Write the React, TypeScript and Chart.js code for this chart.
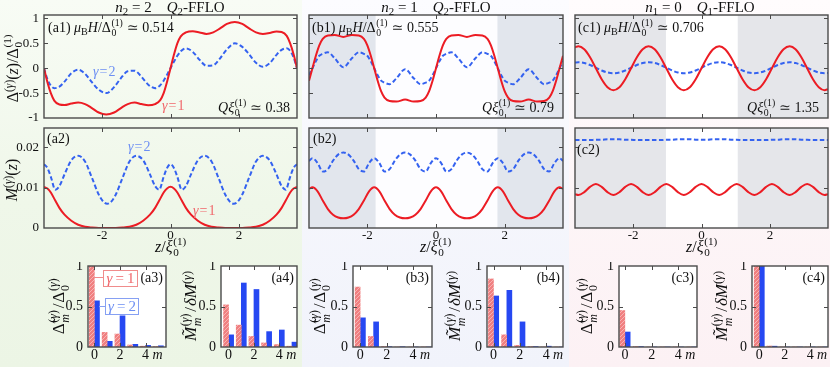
import React, { useEffect, useRef } from "react";
import { Chart, registerables } from "chart.js";
Chart.register(...registerables);

const SERIF = "'Liberation Serif', 'DejaVu Serif', 'Times New Roman', serif";
const RED = "#ec1c24";
const BLUE = "#3462f0";
const BAR_BLUE = "#2648f2";
const FRAME = "#4a4a4a";
const RED_TXT = "#f0676b";
const BLUE_TXT = "#6d8ff3";

// ---------- data: (a) column, n2 = 2 ----------
const a1Z = [-3.7,-3.6,-3.5,-3.4,-3.25,-3.1,-2.9,-2.7,-2.5,-2.3,-2.1,-1.88,-1.65,-1.45,-1.25,-1.05,-0.85,-0.65,-0.45,-0.3,-0.2,-0.1,0,0.1,0.2,0.3,0.45,0.65,0.85,1.05,1.25,1.45,1.65,1.88,2.1,2.3,2.5,2.7,2.9,3.1,3.25,3.4,3.5,3.6,3.7];
const a1Red = [0,-0.28,-0.5,-0.65,-0.73,-0.74,-0.71,-0.69,-0.72,-0.8,-0.89,-0.93,-0.89,-0.8,-0.72,-0.69,-0.72,-0.745,-0.72,-0.64,-0.5,-0.27,0,0.27,0.5,0.64,0.72,0.745,0.72,0.69,0.72,0.8,0.89,0.93,0.89,0.8,0.72,0.69,0.71,0.74,0.73,0.65,0.5,0.28,0];
const a1Blue = [0,-0.22,-0.35,-0.4,-0.37,-0.27,-0.1,-0.03,-0.11,-0.28,-0.43,-0.5,-0.38,-0.2,-0.06,-0.05,-0.17,-0.33,-0.4,-0.34,-0.25,-0.13,0,0.13,0.25,0.34,0.4,0.33,0.17,0.05,0.06,0.2,0.38,0.5,0.43,0.28,0.11,0.03,0.1,0.27,0.37,0.4,0.35,0.22,0];

const a2Z = [-3.7,-3.6,-3.5,-3.37,-3.25,-3.1,-2.9,-2.7,-2.5,-2.3,-2.1,-1.95,-1.85,-1.75,-1.6,-1.4,-1.2,-1.0,-0.8,-0.6,-0.45,-0.33,-0.2,-0.1,0,0.1,0.2,0.33,0.45,0.6,0.8,1.0,1.2,1.4,1.6,1.75,1.85,1.95,2.1,2.3,2.5,2.7,2.9,3.1,3.25,3.37,3.5,3.6,3.7];
const a2Red = [0.0102,0.0098,0.0088,0.0068,0.005,0.0033,0.0018,0.0008,0.0003,0.0001,0,0,0,0,0,0.0001,0.0003,0.0008,0.0018,0.0033,0.005,0.0068,0.0088,0.0098,0.0102,0.0098,0.0088,0.0068,0.005,0.0033,0.0018,0.0008,0.0003,0.0001,0,0,0,0,0,0.0001,0.0003,0.0008,0.0018,0.0033,0.005,0.0068,0.0088,0.0098,0.0102];
const a2Blue = [0.0158,0.0149,0.0127,0.0095,0.0104,0.0133,0.0168,0.0179,0.0165,0.0125,0.0083,0.0064,0.006,0.0064,0.0083,0.0125,0.0165,0.0179,0.0168,0.0133,0.0104,0.0095,0.0127,0.0149,0.0158,0.0149,0.0127,0.0095,0.0104,0.0133,0.0168,0.0179,0.0165,0.0125,0.0083,0.0064,0.006,0.0064,0.0083,0.0125,0.0165,0.0179,0.0168,0.0133,0.0104,0.0095,0.0127,0.0149,0.0158];

// ---------- data: (b) column, n2 = 1 ----------
const b1Z = [-3.7,-3.6,-3.5,-3.4,-3.3,-3.15,-2.95,-2.7,-2.45,-2.25,-2.1,-2.0,-1.9,-1.8,-1.7,-1.6,-1.5,-1.35,-1.15,-0.9,-0.65,-0.45,-0.3,-0.2,-0.1,0,0.1,0.2,0.3,0.45,0.65,0.9,1.15,1.35,1.5,1.6,1.7,1.8,1.9,2.0,2.1,2.25,2.45,2.7,2.95,3.15,3.3,3.4,3.5,3.6,3.7];
const b1Red = [-0.25,0,0.25,0.46,0.59,0.66,0.67,0.63,0.67,0.66,0.59,0.46,0.25,0,-0.25,-0.46,-0.59,-0.66,-0.67,-0.63,-0.67,-0.66,-0.59,-0.46,-0.25,0,0.25,0.46,0.59,0.66,0.67,0.63,0.67,0.66,0.59,0.46,0.25,0,-0.25,-0.46,-0.59,-0.66,-0.67,-0.63,-0.67,-0.66,-0.59,-0.46,-0.25,0,0.25];
const b1Blue = [-0.14,0,0.14,0.25,0.29,0.32,0.2,0.02,0.2,0.32,0.29,0.25,0.14,0,-0.14,-0.25,-0.29,-0.32,-0.2,-0.02,-0.2,-0.32,-0.29,-0.25,-0.14,0,0.14,0.25,0.29,0.32,0.2,0.02,0.2,0.32,0.29,0.25,0.14,0,-0.14,-0.25,-0.29,-0.32,-0.2,-0.02,-0.2,-0.32,-0.29,-0.25,-0.14,0,0.14];

const b2Z = [-3.7,-3.6,-3.45,-3.3,-3.15,-3.0,-2.85,-2.7,-2.55,-2.4,-2.25,-2.1,-1.95,-1.8,-1.65,-1.5,-1.35,-1.2,-1.05,-0.9,-0.75,-0.6,-0.45,-0.3,-0.15,0,0.15,0.3,0.45,0.6,0.75,0.9,1.05,1.2,1.35,1.5,1.65,1.8,1.95,2.1,2.25,2.4,2.55,2.7,2.85,3.0,3.15,3.3,3.45,3.6,3.7];
const b2Red = [0.0097,0.0101,0.0091,0.0068,0.0047,0.0033,0.0026,0.0024,0.0026,0.0033,0.0047,0.0068,0.0091,0.0101,0.0091,0.0068,0.0047,0.0033,0.0026,0.0024,0.0026,0.0033,0.0047,0.0068,0.0091,0.0101,0.0091,0.0068,0.0047,0.0033,0.0026,0.0024,0.0026,0.0033,0.0047,0.0068,0.0091,0.0101,0.0091,0.0068,0.0047,0.0033,0.0026,0.0024,0.0026,0.0033,0.0047,0.0068,0.0091,0.0101,0.0097];
const b2Blue = [0.0166,0.0173,0.0161,0.014,0.0146,0.0167,0.0182,0.0187,0.0182,0.0167,0.0146,0.014,0.0161,0.0173,0.0161,0.014,0.0146,0.0167,0.0182,0.0187,0.0182,0.0167,0.0146,0.014,0.0161,0.0173,0.0161,0.014,0.0146,0.0167,0.0182,0.0187,0.0182,0.0167,0.0146,0.014,0.0161,0.0173,0.0161,0.014,0.0146,0.0167,0.0182,0.0187,0.0182,0.0167,0.0146,0.014,0.0161,0.0173,0.0166];

// ---------- data: (c) column, n1 = 0 ----------
const cZ = [-3.7,-3.6,-3.43,-3.26,-3.09,-2.92,-2.75,-2.58,-2.4,-2.23,-2.06,-1.89,-1.72,-1.55,-1.37,-1.2,-1.03,-0.86,-0.69,-0.52,-0.34,-0.17,0,0.17,0.34,0.52,0.69,0.86,1.03,1.2,1.37,1.55,1.72,1.89,2.06,2.23,2.4,2.58,2.75,2.92,3.09,3.26,3.43,3.6,3.7];
const c1Red = [0.42,0.44,0.38,0.22,0,-0.22,-0.38,-0.44,-0.38,-0.22,0,0.22,0.38,0.44,0.38,0.22,0,-0.22,-0.38,-0.44,-0.38,-0.22,0,0.22,0.38,0.44,0.38,0.22,0,-0.22,-0.38,-0.44,-0.38,-0.22,0,0.22,0.38,0.44,0.38,0.22,0,-0.22,-0.38,-0.44,-0.42];
const c1Blue = [0.115,0.12,0.105,0.065,0.01,-0.045,-0.085,-0.1,-0.085,-0.045,0.01,0.065,0.105,0.12,0.105,0.065,0.01,-0.045,-0.085,-0.1,-0.085,-0.045,0.01,0.065,0.105,0.12,0.105,0.065,0.01,-0.045,-0.085,-0.1,-0.085,-0.045,0.01,0.065,0.105,0.12,0.105,0.065,0.01,-0.045,-0.085,-0.1,-0.095];
const c2Red = [0.0084,0.0082,0.0089,0.0102,0.0109,0.0102,0.0089,0.0082,0.0089,0.0102,0.0109,0.0102,0.0089,0.0082,0.0089,0.0102,0.0109,0.0102,0.0089,0.0082,0.0089,0.0102,0.0109,0.0102,0.0089,0.0082,0.0089,0.0102,0.0109,0.0102,0.0089,0.0082,0.0089,0.0102,0.0109,0.0102,0.0089,0.0082,0.0089,0.0102,0.0109,0.0102,0.0089,0.0082,0.0084];
const c2Blue = [0.0218,0.0218,0.0218,0.0218,0.0219,0.0219,0.022,0.022,0.022,0.0219,0.0219,0.0218,0.0218,0.0218,0.0218,0.0218,0.0219,0.0219,0.022,0.022,0.022,0.0219,0.0219,0.0219,0.022,0.022,0.022,0.0219,0.0219,0.0218,0.0218,0.0218,0.0218,0.0218,0.0219,0.0219,0.022,0.022,0.022,0.0219,0.0219,0.0218,0.0218,0.0218,0.0218];

// ---------- Fourier components (bars) ----------
const mIdx = [0, 1, 2, 3, 4, 5];
const a3Red = [1.0, 0.18, 0.16, 0.025, 0.01, 0.005];
const a3Blue = [0.57, 0.07, 0.385, 0.033, 0.02, 0.015];
const a4Red = [0.52, 0.27, 0.13, 0.05, 0.03, 0.01];
const a4Blue = [0.15, 0.79, 0.71, 0.19, 0.21, 0.06];
const b3Red = [0.74, 0.13, 0.005, 0, 0, 0];
const b3Blue = [0.36, 0.31, 0.004, 0.003, 0, 0];
const b4Red = [0.84, 0.15, 0.02, 0.005, 0, 0];
const b4Blue = [0.63, 0.7, 0.31, 0.005, 0.01, 0];
const c3Red = [0.45, 0.005, 0, 0, 0, 0];
const c3Blue = [0.185, 0.005, 0, 0, 0, 0];
const c4Red = [1.0, 0.012, 0, 0, 0, 0];
const c4Blue = [1.0, 0.01, 0, 0, 0, 0];

// ticks
const zTicks = [-2, 0, 2];
const zTickLabels = ["-2", "0", "2"];
const deltaTicks = [-0.5, 0, 0.5, 1];
const deltaTickLabels = ["1", "0.5", "0", "-0.5", "-1"];
const deltaTickValues = [1, 0.5, 0, -0.5, -1];
const mTicks = [0.01, 0.02];
const mTickLabels = ["0.02", "0.01", "0"];
const mTickValues = [0.02, 0.01, 0];
const barXTicks = [0, 2, 4];
const barXLabels = ["0", "2", "4"];
const barYTicks = [0.5];
const barYValues = [1, 0.5, 0];
const barYLabels = ["1", "0.5", "0"];

type Cfg = {
  id: string;
  kind: "line" | "bar";
  frame: number[];
  xr: number[];
  yr: number[];
  xTicks: number[];
  yTicks: number[];
  xLab?: { v: number[]; t: string[]; m?: boolean };
  yLab?: { v: number[]; t: string[] };
  plotBg?: string;
  bands?: number[][];
  bandColor?: string;
  xs: number[];
  red: number[];
  blue: number[];
};

const PAD = { l: 44, r: 4, t: 4, b: 22 };
const XR = [-3.7, 3.7];
const TOPY = [-1.0, 1.07];
const MIDY = [0, 0.0248];
const BARY = [0, 1];
const B_BANDS = [[-3.7, -1.76], [1.79, 3.7]];
const C_BANDS = [[-3.7, -1.04], [1.06, 3.7]];

const panels: Cfg[] = [
  { id: "a1", kind: "line", frame: [44, 15, 297, 118], xr: XR, yr: TOPY, xTicks: zTicks, yTicks: deltaTicks, yLab: { v: deltaTickValues, t: deltaTickLabels }, xs: a1Z, red: a1Red, blue: a1Blue },
  { id: "a2", kind: "line", frame: [44, 128, 297, 228], xr: XR, yr: MIDY, xTicks: zTicks, yTicks: mTicks, yLab: { v: mTickValues, t: mTickLabels }, xLab: { v: zTicks, t: zTickLabels }, xs: a2Z, red: a2Red, blue: a2Blue },
  { id: "b1", kind: "line", frame: [309, 15, 563, 118], xr: XR, yr: TOPY, xTicks: zTicks, yTicks: deltaTicks, plotBg: "#fdfdff", bands: B_BANDS, bandColor: "#e2e6ed", xs: b1Z, red: b1Red, blue: b1Blue },
  { id: "b2", kind: "line", frame: [309, 128, 563, 228], xr: XR, yr: MIDY, xTicks: zTicks, yTicks: mTicks, xLab: { v: zTicks, t: zTickLabels }, plotBg: "#fdfdff", bands: B_BANDS, bandColor: "#e2e6ed", xs: b2Z, red: b2Red, blue: b2Blue },
  { id: "c1", kind: "line", frame: [575, 15, 828, 118], xr: XR, yr: TOPY, xTicks: zTicks, yTicks: deltaTicks, plotBg: "#ffffff", bands: C_BANDS, bandColor: "#e5e6ea", xs: cZ, red: c1Red, blue: c1Blue },
  { id: "c2", kind: "line", frame: [575, 128, 828, 228], xr: XR, yr: MIDY, xTicks: zTicks, yTicks: mTicks, xLab: { v: zTicks, t: zTickLabels }, plotBg: "#ffffff", bands: C_BANDS, bandColor: "#e5e6ea", xs: cZ, red: c2Red, blue: c2Blue },
  { id: "a3", kind: "bar", frame: [88, 266, 166, 347], xr: [-0.5, 5.6], yr: BARY, xTicks: barXTicks, yTicks: barYTicks, xLab: { v: barXTicks, t: barXLabels, m: true }, yLab: { v: barYValues, t: barYLabels }, plotBg: "#ffffff", xs: mIdx, red: a3Red, blue: a3Blue },
  { id: "a4", kind: "bar", frame: [221, 266, 297, 347], xr: [-0.6, 5.4], yr: BARY, xTicks: barXTicks, yTicks: barYTicks, xLab: { v: barXTicks, t: barXLabels, m: true }, yLab: { v: barYValues, t: barYLabels }, plotBg: "#ffffff", xs: mIdx, red: a4Red, blue: a4Blue },
  { id: "b3", kind: "bar", frame: [353, 266, 432, 347], xr: [-0.55, 5.43], yr: BARY, xTicks: barXTicks, yTicks: barYTicks, xLab: { v: barXTicks, t: barXLabels, m: true }, yLab: { v: barYValues, t: barYLabels }, plotBg: "#ffffff", xs: mIdx, red: b3Red, blue: b3Blue },
  { id: "b4", kind: "bar", frame: [487, 266, 563, 347], xr: [-0.5, 5.28], yr: BARY, xTicks: barXTicks, yTicks: barYTicks, xLab: { v: barXTicks, t: barXLabels, m: true }, yLab: { v: barYValues, t: barYLabels }, plotBg: "#ffffff", xs: mIdx, red: b4Red, blue: b4Blue },
  { id: "c3", kind: "bar", frame: [619, 266, 697, 347], xr: [-0.45, 5.4], yr: BARY, xTicks: barXTicks, yTicks: barYTicks, xLab: { v: barXTicks, t: barXLabels, m: true }, yLab: { v: barYValues, t: barYLabels }, plotBg: "#ffffff", xs: mIdx, red: c3Red, blue: c3Blue },
  { id: "c4", kind: "bar", frame: [752, 266, 828, 347], xr: [-0.57, 5.4], yr: BARY, xTicks: barXTicks, yTicks: barYTicks, xLab: { v: barXTicks, t: barXLabels, m: true }, yLab: { v: barYValues, t: barYLabels }, plotBg: "#ffffff", xs: mIdx, red: c4Red, blue: c4Blue },
];

function makeHatch(): CanvasPattern | string {
  const c = document.createElement("canvas");
  c.width = 4;
  c.height = 4;
  const g = c.getContext("2d");
  if (!g) return "#f28a8a";
  g.fillStyle = "#f07f80";
  g.fillRect(0, 0, 4, 4);
  g.strokeStyle = "#f7b3b3";
  g.lineWidth = 1;
  g.beginPath();
  g.moveTo(0, 4);
  g.lineTo(4, 0);
  g.stroke();
  return g.createPattern(c, "repeat") || "#f28a8a";
}

function makeDeco(cfg: Cfg) {
  const fs = cfg.kind === "bar" ? 14 : 13;
  return {
    id: "deco",
    beforeDatasetsDraw(chart: any) {
      const { ctx, chartArea: a } = chart;
      const xs = chart.scales.x;
      ctx.save();
      if (cfg.plotBg) {
        ctx.fillStyle = cfg.plotBg;
        ctx.fillRect(a.left, a.top, a.right - a.left, a.bottom - a.top);
      }
      (cfg.bands || []).forEach((bd) => {
        const p0 = Math.max(a.left, xs.getPixelForValue(bd[0]));
        const p1 = Math.min(a.right, xs.getPixelForValue(bd[1]));
        ctx.fillStyle = cfg.bandColor || "#e4e4e4";
        ctx.fillRect(p0, a.top, p1 - p0, a.bottom - a.top);
      });
      ctx.restore();
    },
    afterDraw(chart: any) {
      const { ctx, chartArea: a } = chart;
      const xs = chart.scales.x;
      const ys = chart.scales.y;
      ctx.save();
      ctx.strokeStyle = FRAME;
      ctx.lineWidth = 1;
      ctx.beginPath();
      cfg.xTicks.forEach((v) => {
        const p = Math.round(xs.getPixelForValue(v)) + 0.5;
        ctx.moveTo(p, a.bottom);
        ctx.lineTo(p, a.bottom - 4);
        ctx.moveTo(p, a.top);
        ctx.lineTo(p, a.top + 4);
      });
      cfg.yTicks.forEach((v) => {
        const p = Math.round(ys.getPixelForValue(v)) + 0.5;
        ctx.moveTo(a.left, p);
        ctx.lineTo(a.left + 4, p);
        ctx.moveTo(a.right, p);
        ctx.lineTo(a.right - 4, p);
      });
      ctx.stroke();
      ctx.lineWidth = 1.4;
      ctx.strokeRect(a.left, a.top, a.right - a.left, a.bottom - a.top);
      ctx.fillStyle = "#111";
      ctx.font = `${fs}px ${SERIF}`;
      if (cfg.yLab) {
        ctx.textAlign = "right";
        ctx.textBaseline = "middle";
        cfg.yLab.v.forEach((v, i) => {
          ctx.fillText(cfg.yLab!.t[i], a.left - 5, ys.getPixelForValue(v));
        });
      }
      if (cfg.xLab) {
        ctx.textAlign = "center";
        ctx.textBaseline = "middle";
        const yy = a.bottom + 8;
        cfg.xLab.v.forEach((v, i) => {
          ctx.fillText(cfg.xLab!.t[i], xs.getPixelForValue(v), yy);
        });
        if (cfg.xLab.m) {
          ctx.font = `italic ${fs}px ${SERIF}`;
          const last = cfg.xLab.v[cfg.xLab.v.length - 1];
          ctx.fillText("m", xs.getPixelForValue(last) + 12, yy);
        }
      }
      ctx.restore();
    },
  };
}

function buildConfig(cfg: Cfg, hatch: any): any {
  const datasets =
    cfg.kind === "line"
      ? [
          { type: "line", data: cfg.xs.map((x, i) => ({ x, y: cfg.red[i] })), borderColor: RED, borderWidth: 2, pointRadius: 0, cubicInterpolationMode: "monotone", fill: false, order: 0 },
          { type: "line", data: cfg.xs.map((x, i) => ({ x, y: cfg.blue[i] })), borderColor: BLUE, borderWidth: 2, borderDash: [4.5, 2.5], pointRadius: 0, cubicInterpolationMode: "monotone", fill: false, order: 1 },
        ]
      : [
          { type: "bar", data: cfg.xs.map((m, i) => ({ x: m - 0.2, y: cfg.red[i] })), backgroundColor: hatch, barThickness: 5, grouped: false, borderWidth: 0 },
          { type: "bar", data: cfg.xs.map((m, i) => ({ x: m + 0.2, y: cfg.blue[i] })), backgroundColor: BAR_BLUE, barThickness: 5, grouped: false, borderWidth: 0 },
        ];
  return {
    type: cfg.kind,
    data: { datasets },
    options: {
      responsive: false,
      maintainAspectRatio: false,
      animation: false,
      devicePixelRatio: 1,
      events: [],
      layout: { padding: { left: PAD.l, right: PAD.r, top: PAD.t, bottom: PAD.b } },
      plugins: { legend: { display: false }, tooltip: { enabled: false } },
      scales: {
        x: { type: "linear", min: cfg.xr[0], max: cfg.xr[1], display: false, offset: false },
        y: { type: "linear", min: cfg.yr[0], max: cfg.yr[1], display: false },
      },
    },
    plugins: [makeDeco(cfg)],
  };
}

function Panel({ cfg }: { cfg: Cfg }) {
  const ref = useRef<HTMLCanvasElement>(null);
  useEffect(() => {
    if (!ref.current) return;
    const chart = new Chart(ref.current, buildConfig(cfg, makeHatch()));
    return () => chart.destroy();
  }, []);
  const [l, t, r, b] = cfg.frame;
  const W = r - l + PAD.l + PAD.r;
  const H = b - t + PAD.t + PAD.b;
  return (
    <canvas
      ref={ref}
      width={W}
      height={H}
      style={{ position: "absolute", left: l - PAD.l, top: t - PAD.t, width: W, height: H }}
    />
  );
}

// ---------- text helpers ----------
const Sub = ({ c }: { c: any }) => (
  <span style={{ fontSize: "0.72em", position: "relative", top: "0.3em", lineHeight: 0 }}>{c}</span>
);
const Sup = ({ c }: { c: any }) => (
  <span style={{ fontSize: "0.72em", position: "relative", top: "-0.45em", lineHeight: 0 }}>{c}</span>
);
const SS = ({ sup, sub }: { sup: any; sub: any }) => (
  <span
    style={{
      display: "inline-flex",
      flexDirection: "column",
      fontSize: "0.7em",
      lineHeight: 1,
      verticalAlign: "0.62em",
      marginLeft: "0.06em",
      marginRight: "0.06em",
    }}
  >
    <span>{sup}</span>
    <span>{sub}</span>
  </span>
);

type TProps = { x: number; y: number; align?: "left" | "right" | "center"; size?: number; color?: string; rot?: boolean; children: any };
const T = ({ x, y, align = "left", size = 14, color = "#111", rot = false, children }: TProps) => {
  const tx = align === "left" ? "0" : align === "right" ? "-100%" : "-50%";
  return (
    <div
      style={{
        position: "absolute",
        left: x,
        top: y,
        transform: rot ? "translate(-50%,-50%) rotate(-90deg)" : `translate(${tx},-50%)`,
        fontSize: size,
        color,
        whiteSpace: "nowrap",
        lineHeight: 1.1,
      }}
    >
      {children}
    </div>
  );
};

const G = <i>γ</i>;
const GammaEq = ({ n, wide = false }: { n: string; wide?: boolean }) => (
  <span>
    {G}
    <span style={{ margin: wide ? "0 3px" : "0 1px" }}>=</span>
    {n}
  </span>
);
const MuH = () => (
  <span>
    <i>μ</i>
    <Sub c="B" />
    <i>H</i>/Δ<SS sup="(1)" sub="0" />
  </span>
);
const QXi = () => (
  <span>
    <i>Qξ</i>
    <SS sup="(1)" sub="0" />
  </span>
);
const ZXi = () => (
  <span>
    <i>z</i>/<i>ξ</i>
    <SS sup="(1)" sub="0" />
  </span>
);
const DeltaTitle = () => (
  <span>
    Δ<Sup c={<span>({G})</span>} />(<i>z</i>)/Δ<SS sup="(1)" sub="0" />
  </span>
);
const MTitle = () => (
  <span>
    <i>M</i>
    <Sup c={<span>({G})</span>} />(<i>z</i>)
  </span>
);
const DeltaMTitle = () => (
  <span>
    {"Δ\u0303"}
    <SS sup={<span>({G})</span>} sub={<i>m</i>} />
    <span style={{ margin: "0 1px" }}>/</span>Δ<SS sup={<span>({G})</span>} sub="0" />
  </span>
);
const MMTitle = () => (
  <span>
    <i>{"M\u0303"}</i>
    <SS sup={<span>({G})</span>} sub={<i>m</i>} />
    <span style={{ margin: "0 1px" }}>/</span>
    <i>δM</i>
    <Sup c={<span>({G})</span>} />
  </span>
);

export default function App() {
  useEffect(() => {
    document.body.style.margin = "0";
  }, []);
  return (
    <div
      style={{
        position: "fixed",
        left: 0,
        top: 0,
        width: 830,
        height: 367,
        overflow: "hidden",
        background: "#ffffff",
        fontFamily: SERIF,
        color: "#111",
      }}
    >
      {/* column backgrounds */}
      <div style={{ position: "absolute", left: 0, top: 0, width: 302, height: 367, background: "linear-gradient(to bottom, #f8fcf5 0%, #eff7e9 55%, #ecf5e5 100%)" }} />
      <div style={{ position: "absolute", left: 302, top: 0, width: 267, height: 367, background: "linear-gradient(to bottom, #fcfcff 0%, #f5f6fc 55%, #f1f3fb 100%)" }} />
      <div style={{ position: "absolute", left: 569, top: 0, width: 261, height: 367, background: "linear-gradient(to bottom, #fffcfd 0%, #fdf5f7 55%, #fcf1f4 100%)" }} />

      {panels.map((p) => (
        <Panel key={p.id} cfg={p} />
      ))}

      {/* titles */}
      <T x={170} y={7} align="center" size={15}>
        <i>n</i>
        <Sub c="2" /> = 2&nbsp;&nbsp;&nbsp; <i>Q</i>
        <Sub c="2" />-FFLO
      </T>
      <T x={436} y={7} align="center" size={15}>
        <i>n</i>
        <Sub c="2" /> = 1&nbsp;&nbsp;&nbsp; <i>Q</i>
        <Sub c="2" />-FFLO
      </T>
      <T x={700} y={7} align="center" size={15}>
        <i>n</i>
        <Sub c="1" /> = 0&nbsp;&nbsp;&nbsp; <i>Q</i>
        <Sub c="1" />-FFLO
      </T>

      {/* top panel annotations */}
      <T x={48} y={28}>
        (a1) <MuH /> ≃ 0.514
      </T>
      <T x={312} y={28}>
        (b1) <MuH /> ≃ 0.555
      </T>
      <T x={578} y={28}>
        (c1) <MuH /> ≃ 0.706
      </T>
      <T x={290} y={108} align="right">
        <QXi /> ≃ 0.38
      </T>
      <T x={554} y={108} align="right">
        <QXi /> ≃ 0.79
      </T>
      <T x={819} y={108} align="right">
        <QXi /> ≃ 1.35
      </T>

      {/* curve labels */}
      <T x={93} y={72} color={BLUE_TXT}>
        <GammaEq n="2" />
      </T>
      <T x={162} y={106} color={RED_TXT}>
        <GammaEq n="1" />
      </T>
      <T x={128} y={147} color={BLUE_TXT}>
        <GammaEq n="2" />
      </T>
      <T x={193} y={211} color={RED_TXT}>
        <GammaEq n="1" />
      </T>

      {/* middle panel tags */}
      <T x={47} y={139}>(a2)</T>
      <T x={313} y={139}>(b2)</T>
      <T x={577} y={150}>(c2)</T>

      {/* axis titles */}
      <T x={13} y={68} rot size={16}>
        <DeltaTitle />
      </T>
      <T x={12} y={180} rot size={16}>
        <MTitle />
      </T>
      <T x={171} y={247} align="center" size={16}>
        <ZXi />
      </T>
      <T x={436} y={247} align="center" size={16}>
        <ZXi />
      </T>
      <T x={702} y={247} align="center" size={16}>
        <ZXi />
      </T>

      {/* bar panel titles */}
      <T x={60} y={306} rot size={17}>
        <DeltaMTitle />
      </T>
      <T x={192} y={306} rot size={17}>
        <MMTitle />
      </T>
      <T x={321} y={306} rot size={17}>
        <DeltaMTitle />
      </T>
      <T x={456} y={306} rot size={17}>
        <MMTitle />
      </T>
      <T x={588} y={306} rot size={17}>
        <DeltaMTitle />
      </T>
      <T x={723} y={306} rot size={17}>
        <MMTitle />
      </T>

      {/* bar panel tags */}
      <T x={163} y={278} align="right">(a3)</T>
      <T x={294} y={278} align="right">(a4)</T>
      <T x={429} y={278} align="right">(b3)</T>
      <T x={560} y={278} align="right">(b4)</T>
      <T x={694} y={278} align="right">(c3)</T>
      <T x={825} y={278} align="right">(c4)</T>

      {/* legend in (a3) */}
      <div style={{ position: "absolute", left: 94, top: 277, width: 9, height: 0, borderTop: "1px solid #f08c8c" }} />
      <div
        style={{
          position: "absolute",
          left: 103,
          top: 270,
          width: 33,
          height: 15,
          border: "1px solid #f08c8c",
          background: "#fff",
          color: RED_TXT,
          fontSize: 15,
          display: "flex",
          alignItems: "center",
          justifyContent: "center",
          whiteSpace: "nowrap",
        }}
      >
        <GammaEq n="1" wide />
      </div>
      <div style={{ position: "absolute", left: 99, top: 306, width: 6, height: 0, borderTop: "1px solid #86a0f3" }} />
      <div
        style={{
          position: "absolute",
          left: 105,
          top: 298,
          width: 32,
          height: 15,
          border: "1px solid #86a0f3",
          background: "#fff",
          color: BLUE_TXT,
          fontSize: 15,
          display: "flex",
          alignItems: "center",
          justifyContent: "center",
          whiteSpace: "nowrap",
        }}
      >
        <GammaEq n="2" wide />
      </div>
    </div>
  );
}
